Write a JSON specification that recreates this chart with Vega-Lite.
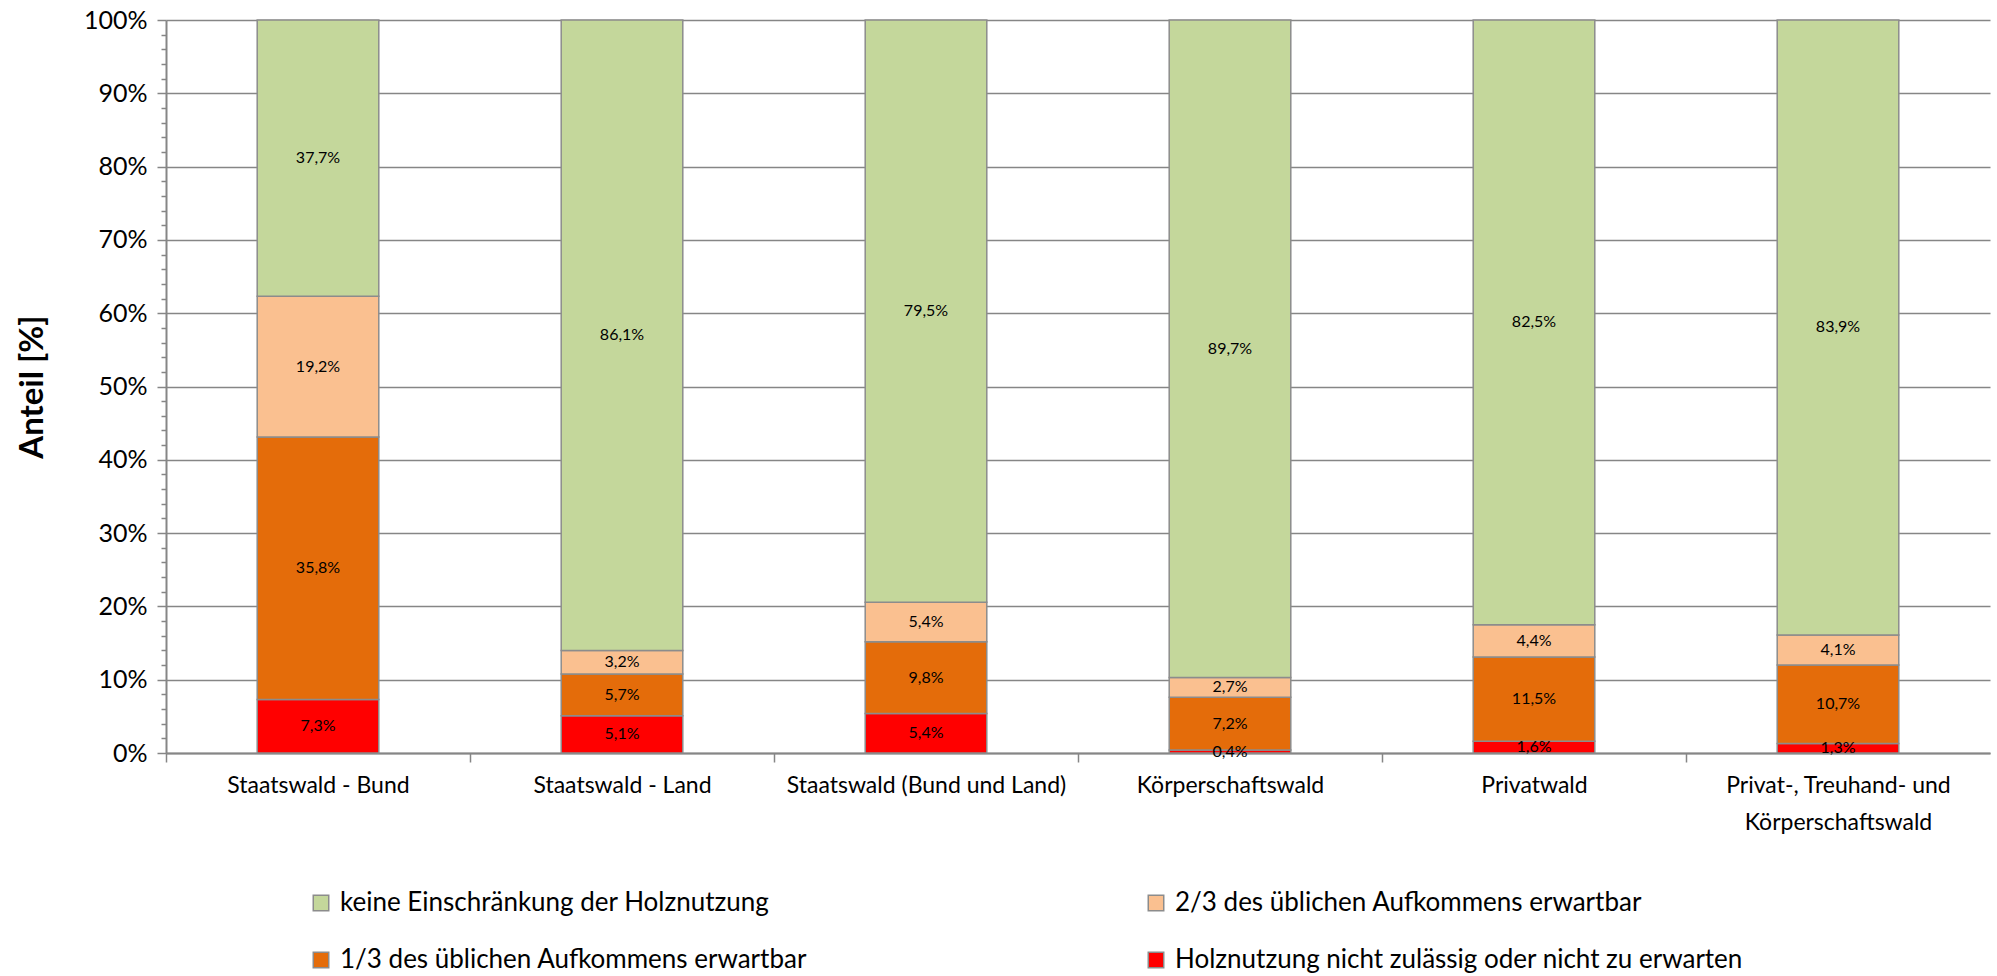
{
  "$schema": "https://vega.github.io/schema/vega-lite/v6.json",
  "width": 1824,
  "height": 733,
  "autosize": "none",
  "padding": {"left": 166, "top": 20, "right": 7, "bottom": 223},
  "background": "white",
  "config": {
    "view": {"stroke": null},
    "font": "Lato",
    "axisY": {"labelOverlap": false}
  },
  "data": {
    "values": [
      {"w": "Staatswald - Bund", "k": "Holznutzung nicht zulässig oder nicht zu erwarten", "v": 7.3},
      {"w": "Staatswald - Bund", "k": "1/3 des üblichen Aufkommens erwartbar", "v": 35.8},
      {"w": "Staatswald - Bund", "k": "2/3 des üblichen Aufkommens erwartbar", "v": 19.2},
      {"w": "Staatswald - Bund", "k": "keine Einschränkung der Holznutzung", "v": 37.7},
      {"w": "Staatswald - Land", "k": "Holznutzung nicht zulässig oder nicht zu erwarten", "v": 5.1},
      {"w": "Staatswald - Land", "k": "1/3 des üblichen Aufkommens erwartbar", "v": 5.7},
      {"w": "Staatswald - Land", "k": "2/3 des üblichen Aufkommens erwartbar", "v": 3.2},
      {"w": "Staatswald - Land", "k": "keine Einschränkung der Holznutzung", "v": 86.1},
      {"w": "Staatswald (Bund und Land)", "k": "Holznutzung nicht zulässig oder nicht zu erwarten", "v": 5.4},
      {"w": "Staatswald (Bund und Land)", "k": "1/3 des üblichen Aufkommens erwartbar", "v": 9.8},
      {"w": "Staatswald (Bund und Land)", "k": "2/3 des üblichen Aufkommens erwartbar", "v": 5.4},
      {"w": "Staatswald (Bund und Land)", "k": "keine Einschränkung der Holznutzung", "v": 79.5},
      {"w": "Körperschaftswald", "k": "Holznutzung nicht zulässig oder nicht zu erwarten", "v": 0.4},
      {"w": "Körperschaftswald", "k": "1/3 des üblichen Aufkommens erwartbar", "v": 7.2},
      {"w": "Körperschaftswald", "k": "2/3 des üblichen Aufkommens erwartbar", "v": 2.7},
      {"w": "Körperschaftswald", "k": "keine Einschränkung der Holznutzung", "v": 89.7},
      {"w": "Privatwald", "k": "Holznutzung nicht zulässig oder nicht zu erwarten", "v": 1.6},
      {"w": "Privatwald", "k": "1/3 des üblichen Aufkommens erwartbar", "v": 11.5},
      {"w": "Privatwald", "k": "2/3 des üblichen Aufkommens erwartbar", "v": 4.4},
      {"w": "Privatwald", "k": "keine Einschränkung der Holznutzung", "v": 82.5},
      {"w": "Privat-, Treuhand- und Körperschaftswald", "k": "Holznutzung nicht zulässig oder nicht zu erwarten", "v": 1.3},
      {"w": "Privat-, Treuhand- und Körperschaftswald", "k": "1/3 des üblichen Aufkommens erwartbar", "v": 10.7},
      {"w": "Privat-, Treuhand- und Körperschaftswald", "k": "2/3 des üblichen Aufkommens erwartbar", "v": 4.1},
      {"w": "Privat-, Treuhand- und Körperschaftswald", "k": "keine Einschränkung der Holznutzung", "v": 83.9}
    ]
  },
  "transform": [
    {"calculate": "indexof(['Holznutzung nicht zulässig oder nicht zu erwarten','1/3 des üblichen Aufkommens erwartbar','2/3 des üblichen Aufkommens erwartbar','keine Einschränkung der Holznutzung'], datum.k)", "as": "ord"},
    {"stack": "v", "groupby": ["w"], "sort": [{"field": "ord", "order": "ascending"}], "offset": "normalize", "as": ["y0", "y1"]},
    {"calculate": "(datum.y0 + datum.y1) / 2", "as": "mid"},
    {"calculate": "replace(format(datum.v, '.1f'), '.', ',') + '%'", "as": "lbl"}
  ],
  "encoding": {
    "x": {
      "field": "w",
      "type": "nominal",
      "sort": null,
      "scale": {"paddingInner": 0.6, "paddingOuter": 0.3},
      "axis": {
        "title": null,
        "labelAngle": 0,
        "labelFontSize": 23,
        "labelColor": "#000000",
        "labelPadding": 12,
        "labelLimit": 0,
        "labelLineHeight": 37,
        "labelBaseline": "top",
        "labelOverlap": false,
        "labelExpr": "datum.label == 'Privat-, Treuhand- und Körperschaftswald' ? ['Privat-, Treuhand- und', 'Körperschaftswald'] : datum.label",
        "tickOffset": -152,
        "labelOffset": 152,
        "tickSize": 9,
        "tickColor": "#868686",
        "tickWidth": 1.5,
        "domainColor": "#868686",
        "domainWidth": 2
      }
    }
  },
  "layer": [
    {
      "mark": {"type": "bar", "stroke": "#8c8c8c", "strokeWidth": 1.5},
      "encoding": {
        "y": {
          "field": "y0",
          "type": "quantitative",
          "scale": {"domain": [0, 1], "nice": false},
          "axis": {
            "title": "Anteil [%]",
            "titleFontSize": 33,
            "titleFontWeight": "bold",
            "titleColor": "#000000",
            "titlePadding": 34,
            "values": [0, 0.02, 0.04, 0.06, 0.08, 0.1, 0.12, 0.14, 0.16, 0.18, 0.2, 0.22, 0.24, 0.26, 0.28, 0.3, 0.32, 0.34, 0.36, 0.38, 0.4, 0.42, 0.44, 0.46, 0.48, 0.5, 0.52, 0.54, 0.56, 0.58, 0.6, 0.62, 0.64, 0.66, 0.68, 0.7, 0.72, 0.74, 0.76, 0.78, 0.8, 0.82, 0.84, 0.86, 0.88, 0.9, 0.92, 0.94, 0.96, 0.98, 1],
            "labelExpr": "round(datum.value * 100) % 10 == 0 ? format(datum.value, '.0%') : ''",
            "labelOverlap": false,
            "labelFontSize": 25,
            "labelColor": "#000000",
            "labelPadding": 10,
            "grid": true,
            "gridColor": "#868686",
            "gridWidth": 1.5,
            "gridOpacity": {"condition": {"test": "round(datum.value * 100) % 10 != 0", "value": 0}, "value": 1},
            "tickSize": {"condition": {"test": "round(datum.value * 100) % 10 != 0", "value": 5}, "value": 9},
            "tickColor": "#868686",
            "tickWidth": 1.5,
            "domainColor": "#868686",
            "domainWidth": 2
          }
        },
        "y2": {"field": "y1"},
        "color": {
          "field": "k",
          "type": "nominal",
          "scale": {
            "domain": ["keine Einschränkung der Holznutzung", "2/3 des üblichen Aufkommens erwartbar", "1/3 des üblichen Aufkommens erwartbar", "Holznutzung nicht zulässig oder nicht zu erwarten"],
            "range": ["#C4D79B", "#FAC090", "#E46C0A", "#FF0000"]
          },
          "legend": {
            "title": null,
            "orient": "none",
            "legendX": 142,
            "legendY": 870,
            "direction": "horizontal",
            "columns": 2,
            "columnPadding": 335,
            "rowPadding": 31,
            "padding": 0,
            "symbolType": "square",
            "symbolSize": 240,
            "symbolStrokeColor": "#8c8c8c",
            "symbolStrokeWidth": 1.5,
            "symbolOpacity": 1,
            "labelFontSize": 26,
            "labelColor": "#000000",
            "labelLimit": 0,
            "labelOffset": 6
          }
        }
      }
    },
    {
      "mark": {"type": "text", "fontSize": 16, "color": "#000000", "baseline": "middle", "align": "center"},
      "encoding": {
        "y": {
          "field": "mid",
          "type": "quantitative",
          "axis": {
            "title": "Anteil [%]",
            "titleFontSize": 33,
            "titleFontWeight": "bold",
            "titleColor": "#000000",
            "titlePadding": 34,
            "values": [0, 0.02, 0.04, 0.06, 0.08, 0.1, 0.12, 0.14, 0.16, 0.18, 0.2, 0.22, 0.24, 0.26, 0.28, 0.3, 0.32, 0.34, 0.36, 0.38, 0.4, 0.42, 0.44, 0.46, 0.48, 0.5, 0.52, 0.54, 0.56, 0.58, 0.6, 0.62, 0.64, 0.66, 0.68, 0.7, 0.72, 0.74, 0.76, 0.78, 0.8, 0.82, 0.84, 0.86, 0.88, 0.9, 0.92, 0.94, 0.96, 0.98, 1],
            "labelExpr": "round(datum.value * 100) % 10 == 0 ? format(datum.value, '.0%') : ''",
            "labelOverlap": false,
            "labelFontSize": 25,
            "labelColor": "#000000",
            "labelPadding": 10,
            "grid": true,
            "gridColor": "#868686",
            "gridWidth": 1.5,
            "gridOpacity": {"condition": {"test": "round(datum.value * 100) % 10 != 0", "value": 0}, "value": 1},
            "tickSize": {"condition": {"test": "round(datum.value * 100) % 10 != 0", "value": 5}, "value": 9},
            "tickColor": "#868686",
            "tickWidth": 1.5,
            "domainColor": "#868686",
            "domainWidth": 2
          }
        },
        "text": {"field": "lbl", "type": "nominal"}
      }
    }
  ]
}
